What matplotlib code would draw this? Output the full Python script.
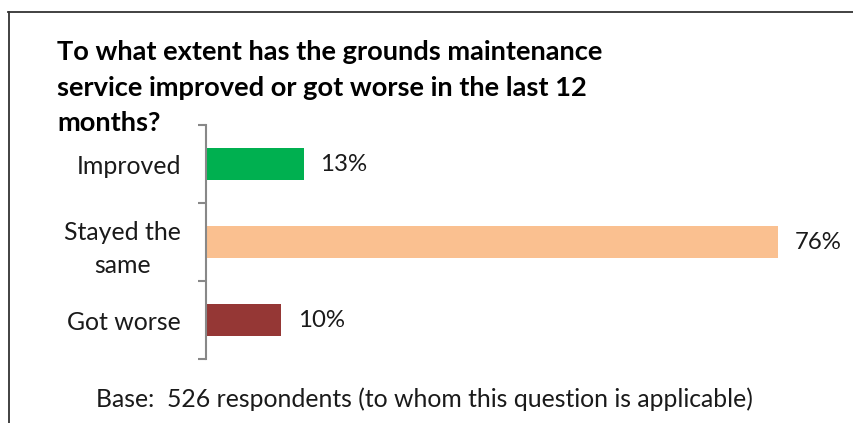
import matplotlib.pyplot as plt
from matplotlib.lines import Line2D

categories = ['Improved', 'Stayed the\nsame', 'Got worse']
values = [13, 76, 10]
colors = ['#00B050', '#FAC090', '#953735']

plt.rcParams['font.family'] = ['Lato', 'DejaVu Sans']

fig = plt.figure(figsize=(8.54, 4.23), dpi=100)
ax = fig.add_axes([206 / 854, 64 / 423, 602 / 854, 234 / 423])

y = list(range(len(categories)))
ax.barh(y, values, height=0.41, color=colors, left=0)
ax.set_xlim(0, 80)
ax.set_ylim(len(categories) - 0.5, -0.5)

for yi, v in zip(y, values):
    ax.annotate(f'{v}%', (v, yi), xytext=(12, 0), textcoords='offset points',
                va='center', ha='left', fontsize=17.3, color='#1a1a1a')

# category axis with ticks between the bars
ax.set_yticks([i - 0.5 for i in range(len(categories) + 1)])
ax.set_yticklabels([])
ax.set_yticks(y, minor=True)
ax.set_yticklabels(categories, minor=True, fontsize=17.9, ha='right',
                   linespacing=1.55, color='#1a1a1a')
for lbl in ax.get_yticklabels(minor=True):
    lbl.set_multialignment('center')
ax.tick_params(axis='y', which='minor', length=0, pad=18)
ax.tick_params(axis='y', which='major', length=5.5, width=1.5, color='#888888', direction='out')
ax.set_xticks([])
for side in ['top', 'right', 'bottom']:
    ax.spines[side].set_visible(False)
ax.spines['left'].set_color('#888888')
ax.spines['left'].set_linewidth(1.5)

fig.text(57 / 854, 1 - 40 / 423,
         'To what extent has the grounds maintenance\n'
         'service improved or got worse in the last 12\n'
         'months?',
         fontsize=19.6, fontweight='bold', va='top', ha='left', linespacing=1.58)

fig.text(96 / 854, 1 - 407 / 423,
         'Base:  526 respondents (to whom this question is applicable)',
         fontsize=17.8, va='baseline', ha='left', color='#1a1a1a')

# chart frame
fig.add_artist(Line2D([8 / 854, 1], [1 - 12 / 423, 1 - 12 / 423], color='#333333', lw=1.3))
fig.add_artist(Line2D([9 / 854, 9 / 854], [1 - 12 / 423, 0], color='#333333', lw=1.3))

fig.savefig('out.png', dpi=100)
